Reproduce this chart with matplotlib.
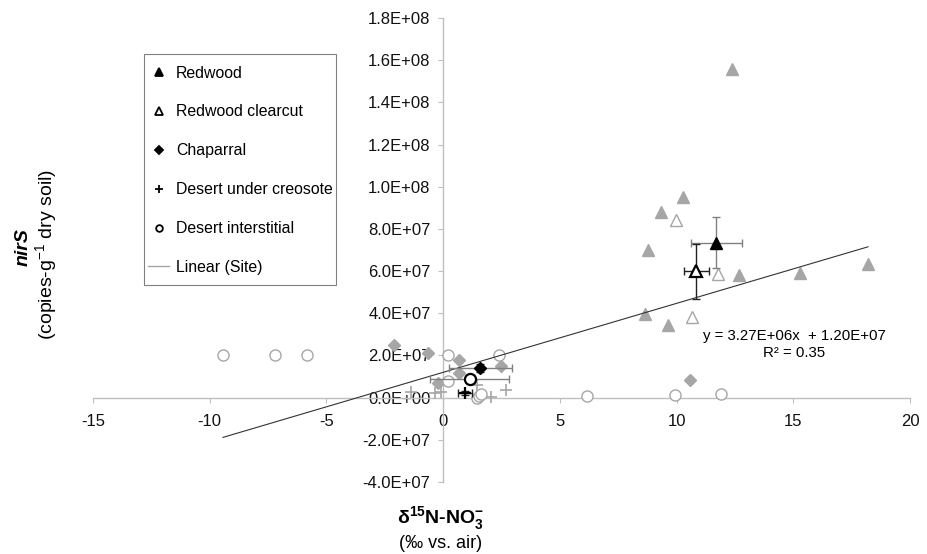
import numpy as np
import matplotlib
matplotlib.use('Agg')
import matplotlib.pyplot as plt
from matplotlib.lines import Line2D
from matplotlib.patches import Rectangle
from matplotlib.ticker import FuncFormatter, MultipleLocator

plt.rcParams['font.family'] = ['Liberation Sans', 'DejaVu Sans']
plt.rcParams['mathtext.fontset'] = 'custom'
plt.rcParams['mathtext.rm'] = 'Liberation Sans'
plt.rcParams['mathtext.bf'] = 'Liberation Sans:bold'

# individual samples (grey)
redwood_x = [12.36, 10.29, 9.34, 8.77, 12.69, 15.29, 18.20, 8.65, 9.62]
redwood_y = [1.56e8, 9.5e7, 8.8e7, 7.0e7, 5.8e7, 5.9e7, 6.35e7, 3.95e7, 3.45e7]

clearcut_x = [9.99, 11.79, 10.65]
clearcut_y = [8.4e7, 5.85e7, 3.8e7]

chaparral_x = [-2.09, -0.66, 0.70, 2.48, 0.70, -0.23, 10.59]
chaparral_y = [2.5e7, 2.1e7, 1.77e7, 1.5e7, 1.15e7, 7.0e6, 8.3e6]

creosote_x = [-1.37, -0.37, -0.09, 1.45, 1.63, 2.06, 2.68]
creosote_y = [2.5e6, 2.3e6, 2.5e6, 6.0e6, 6e5, 5e5, 3.5e6]

interstitial_x = [-9.43, -7.19, -5.82, 0.20, 2.41, 0.20, 1.46, 1.55, 1.63, 6.15, 9.94, 11.92]
interstitial_y = [2.04e7, 2.04e7, 2.04e7, 2.04e7, 2.04e7, 7.7e6, 0, 1.0e6, 1.8e6, 9e5, 1.2e6, 1.6e6]

# site means with error bars (black)
sites = ['Redwood', 'Redwood clearcut', 'Chaparral', 'Desert under creosote', 'Desert interstitial']
mean_x = [11.71, 10.84, 1.60, 0.94, 1.13]
mean_y = [7.35e7, 6.0e7, 1.40e7, 2.2e6, 9.0e6]
mean_xerr = [1.10, 0.54, 1.35, 0.30, 1.71]
mean_yerr = [1.2e7, 1.3e7, 2.0e6, 1.0e6, 1.5e6]

# linear fit (Site)
slope = 3.27e6
intercept = 1.20e7
r2 = 0.35

grey = '#a6a6a6'
markers = ['^', '^', 'D', '+', 'o']
msizes = [9, 9, 6.5, 8.5, 8]
filled = [True, False, True, True, False]
xerr_col = ['#808080', '#222222', '#808080', '#222222', '#808080']
yerr_col = ['#808080', '#222222', '#222222', '#222222', '#808080']

fig = plt.figure(figsize=(9.28, 5.54), dpi=100)
ax = fig.add_axes([93/928, 1 - 482/554, (910 - 93)/928, (482 - 18)/554])

samples = [(redwood_x, redwood_y), (clearcut_x, clearcut_y), (chaparral_x, chaparral_y),
           (creosote_x, creosote_y), (interstitial_x, interstitial_y)]
for (sx, sy), m, ms, f in zip(samples, markers, msizes, filled):
    ax.plot(sx, sy, linestyle='none', marker=m, ms=ms, color=grey,
            markerfacecolor=grey if f else 'white', markeredgecolor=grey,
            markeredgewidth=1.2 if m == '+' else 1.0, zorder=3)

# trend line
all_x = np.concatenate([np.array(s[0]) for s in samples])
lx = np.array([all_x.min(), all_x.max()])
ax.plot(lx, slope * lx + intercept, color='#333333', lw=0.8, zorder=4)

for i in range(len(sites)):
    ax.errorbar(mean_x[i], mean_y[i], xerr=mean_xerr[i], fmt='none',
                ecolor=xerr_col[i], elinewidth=1.0, capsize=3, zorder=5)
    ax.errorbar(mean_x[i], mean_y[i], yerr=mean_yerr[i], fmt='none',
                ecolor=yerr_col[i], elinewidth=1.0, capsize=3, zorder=5)
    ax.plot(mean_x[i], mean_y[i], linestyle='none', marker=markers[i], ms=msizes[i],
            color='black', markerfacecolor='black' if filled[i] else 'white',
            markeredgecolor='black', markeredgewidth=1.6 if not filled[i] or markers[i] == '+' else 1.0,
            zorder=6)

ax.text(15.03, 2.51e7, 'y = 3.27E+06x  + 1.20E+07\nR² = %.2f' % r2,
        ha='center', va='center', fontsize=10.8, linespacing=1.25, zorder=7)

ax.set_xlim(-15, 20)
ax.set_ylim(-4e7, 1.8e8)
ax.xaxis.set_major_locator(MultipleLocator(5))
ax.yaxis.set_major_locator(MultipleLocator(2e7))
ax.yaxis.set_major_formatter(FuncFormatter(lambda v, p: '%.1E' % v))
ax.xaxis.set_major_formatter(FuncFormatter(lambda v, p: '%d' % v))

for side in ['top', 'right']:
    ax.spines[side].set_visible(False)
ax.spines['left'].set_position(('data', 0))
ax.spines['bottom'].set_position(('data', 0))
for side in ['left', 'bottom']:
    ax.spines[side].set_color('#bfbfbf')
    ax.spines[side].set_linewidth(1.0)
ax.tick_params(axis='both', direction='out', length=3.6, color='#bfbfbf',
               labelsize=12, labelcolor='#111111')
ax.tick_params(axis='x', pad=8.5)
ax.tick_params(axis='y', pad=5.5)

handles = []
for i in range(len(sites)):
    handles.append(Line2D([], [], linestyle='none', marker=markers[i],
                          ms=msizes[i] * 0.6, color='black',
                          markerfacecolor='black' if filled[i] else 'white',
                          markeredgecolor='black', markeredgewidth=1.3, label=sites[i]))
handles.append(Line2D([], [], color=grey, lw=1.0, label='Linear (Site)'))
leg = ax.legend(handles=handles, loc='upper left', bbox_to_anchor=(148/928, 1 - 65.5/554),
                bbox_transform=fig.transFigure, borderaxespad=0, borderpad=0,
                fontsize=11.4, labelspacing=1.51, handlelength=1.33, handletextpad=0.44,
                frameon=False)
fig.add_artist(Rectangle((144/928, 1 - 285/554), (336 - 144)/928, (285 - 54)/554,
                         transform=fig.transFigure, fill=False, edgecolor='#808080', lw=0.8))

fig.text(23/928, 1 - 247/554, 'nirS', rotation=90, ha='center', va='center',
         fontsize=14, fontweight='bold', fontstyle='italic')
fig.text(47/928, 1 - 255/554, '(copies-g$^{-1}$ dry soil)', rotation=90,
         ha='center', va='center', fontsize=14)
fig.text(441/928, 1 - 519/554, r'δ$^{\mathbf{15}}$N-NO$_{\mathbf{3}}^{\mathbf{-}}$',
         ha='center', va='center', fontsize=14, fontweight='bold')
fig.text(441/928, 1 - 543/554, '(‰ vs. air)', ha='center', va='center', fontsize=13)

fig.savefig('out.png', dpi=100)
